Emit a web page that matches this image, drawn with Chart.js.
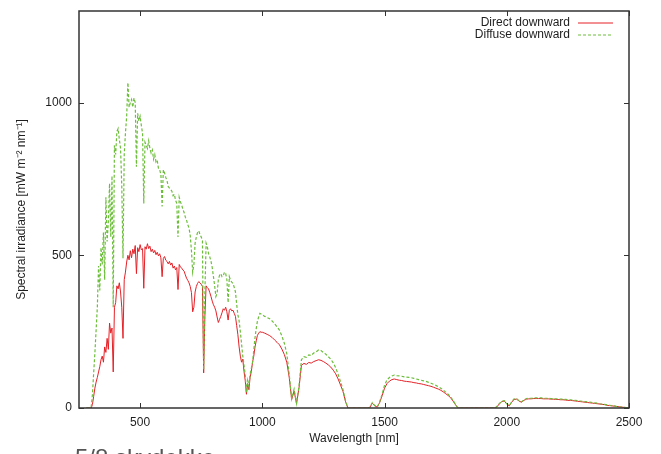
<!DOCTYPE html>
<html>
<head>
<meta charset="utf-8">
<script src="https://cdn.jsdelivr.net/npm/chart.js@4.4.1/dist/chart.umd.min.js"></script>
<style>
  html, body { margin: 0; padding: 0; background: #fff; overflow: hidden; }
  #wrap { position: relative; width: 661px; height: 454px; overflow: hidden; }
  #caption {
    position: absolute; left: 75px; top: 446px;
    font-family: "Liberation Sans", Arial, sans-serif; font-size: 24px; line-height: 24px;
    color: #555; white-space: nowrap;
  }
</style>
</head>
<body>
<div id="wrap">
  <canvas id="spectrum" width="661" height="454"></canvas>
  <div id="caption">5/8 skydekke</div>
</div>
<script>
// Wavelength grid (nm)
const wavelengths = [
  280, 285, 290, 295, 300, 305, 310, 315, 320, 325,
  330, 335, 340, 345, 350, 355, 360, 365, 370, 375,
  380, 385, 390, 395, 400, 405, 410, 415, 420, 425,
  430, 435, 440, 445, 450, 455, 460, 465, 470, 475,
  480, 485, 490, 495, 500, 505, 510, 515, 520, 525,
  530, 535, 540, 545, 550, 555, 560, 565, 570, 575,
  580, 585, 590, 595, 600, 605, 610, 615, 620, 625,
  630, 635, 640, 645, 650, 655, 660, 665, 670, 675,
  680, 685, 690, 695, 700, 705, 710, 715, 720, 725,
  730, 735, 740, 745, 750, 755, 760, 765, 770, 775,
  780, 785, 790, 795, 800, 805, 810, 815, 820, 825,
  830, 835, 840, 845, 850, 855, 860, 865, 870, 875,
  880, 885, 890, 895, 900, 905, 910, 915, 920, 925,
  930, 935, 940, 945, 950, 955, 960, 965, 970, 975,
  980, 985, 990, 995, 1000,
  1010, 1020, 1030, 1040, 1050, 1060, 1070, 1080, 1090, 1100,
  1110, 1120, 1130, 1140, 1150, 1160, 1170, 1180, 1190, 1200,
  1210, 1220, 1230, 1240, 1250, 1260, 1270, 1280, 1290, 1300,
  1310, 1320, 1330, 1340, 1350, 1360, 1370, 1380, 1390, 1400,
  1410, 1420, 1430, 1440, 1450, 1460, 1470, 1480, 1490, 1500,
  1510, 1520, 1530, 1540, 1550, 1560, 1570, 1580, 1590, 1600,
  1610, 1620, 1630, 1640, 1650, 1660, 1670, 1680, 1690, 1700,
  1710, 1720, 1730, 1740, 1750, 1760, 1770, 1780, 1790, 1800,
  1810, 1820, 1830, 1840, 1850, 1860, 1870, 1880, 1890, 1900,
  1910, 1920, 1930, 1940, 1950, 1960, 1970, 1980, 1990, 2000,
  2010, 2020, 2030, 2040, 2050, 2060, 2070, 2080, 2090, 2100,
  2110, 2120, 2130, 2140, 2150, 2160, 2170, 2180, 2190, 2200,
  2210, 2220, 2230, 2240, 2250, 2260, 2270, 2280, 2290, 2300,
  2310, 2320, 2330, 2340, 2350, 2360, 2370, 2380, 2390, 2400,
  2410, 2420, 2430, 2440, 2450, 2460, 2470, 2480, 2490, 2500
];

// Direct downward spectral irradiance (mW m-2 nm-1)
const directDownward = [
  0, 0, 0, 0, 0, 12, 38, 65, 85, 100,
  118, 135, 158, 170, 150, 200, 182, 228, 192, 278,
  245, 262, 118, 330, 345, 400, 390, 410, 380, 330,
  228, 420, 445, 478, 500, 485, 515, 492, 520, 505,
  532, 440, 525, 512, 535, 518, 522, 392, 528, 520,
  538, 522, 530, 512, 520, 508, 516, 502, 510, 498,
  505, 492, 430, 490, 496, 484, 480, 472, 480, 468,
  475, 458, 465, 452, 460, 388, 470, 462, 458, 452,
  448, 436, 425, 418, 410, 398, 378, 315, 330, 380,
  398, 408, 414, 410, 405, 398, 115, 300, 400, 394,
  390, 378, 365, 350, 338, 330, 318, 298, 280, 290,
  300, 312, 325, 320, 330, 315, 288, 320, 325, 318,
  320, 310, 300, 270, 240, 200, 170, 150, 160, 120,
  90, 45, 80, 60, 100, 120, 150, 170, 200, 220,
  238, 245, 250, 248, 248,
  245, 241, 237, 231, 223, 215, 207, 193, 175, 150,
  100, 28, 56, 14, 66, 140, 146, 143, 149, 147,
  152, 155, 158, 156, 152, 147, 141, 134, 124, 112,
  95, 75, 54, 22, 0, 0, 0, 0, 0, 0,
  0, 0, 0, 2, 16, 7, 3, 18, 40, 65,
  80, 88, 93, 95, 93, 91, 90, 88, 87, 86,
  85, 83, 82, 80, 79, 77, 75, 73, 71, 68,
  65, 62, 58, 53, 47, 41, 34, 23, 11, 0,
  0, 0, 0, 0, 0, 0, 0, 0, 0, 0,
  0, 0, 0, 0, 0, 4, 14, 21, 23, 13,
  7, 19, 28, 29, 23, 19, 25, 29, 30, 30,
  31, 31, 31, 31, 30, 30, 30, 29, 29, 28,
  28, 27, 27, 26, 25, 25, 24, 23, 22, 21,
  20, 19, 18, 17, 16, 15, 14, 13, 12, 11,
  9, 8, 7, 6, 5, 4, 3, 2, 1, 0
];

// Diffuse downward spectral irradiance (mW m-2 nm-1)
const diffuseDownward = [
  0, 0, 0, 0, 4, 45, 115, 180, 255, 330,
  465, 385, 525, 470, 575, 420, 690, 545, 610, 735,
  560, 760, 330, 860, 830, 905, 915, 880, 850, 725,
  490, 830, 900, 955, 1065, 985, 1000, 1010, 985, 1015,
  1000, 790, 965, 940, 955, 925, 900, 670, 870, 860,
  850, 875, 850, 835, 845, 815, 830, 805, 810, 785,
  780, 765, 660, 780, 770, 755, 745, 725, 720, 715,
  710, 695, 700, 680, 670, 560, 690, 675, 665, 650,
  640, 625, 615, 600, 590, 565, 515, 445, 470, 540,
  560, 575, 580, 568, 560, 548, 125, 380, 540, 528,
  505, 495, 480, 460, 430, 400, 365, 375, 420, 435,
  440, 430, 432, 445, 440, 420, 345, 430, 418, 412,
  408, 395, 380, 340, 305, 285, 250, 210, 170, 140,
  110, 50, 90, 70, 110, 130, 150, 190, 230, 260,
  285, 298, 310, 308, 305,
  300, 296, 292, 285, 276, 266, 255, 236, 212, 178,
  110, 30, 62, 15, 72, 158, 168, 166, 174, 172,
  180, 184, 190, 188, 182, 176, 168, 160, 148, 132,
  110, 86, 60, 25, 0, 0, 0, 0, 0, 0,
  0, 0, 0, 2, 18, 8, 3, 20, 45, 75,
  92, 100, 105, 108, 106, 105, 104, 102, 101, 100,
  99, 97, 95, 93, 91, 89, 87, 84, 81, 78,
  74, 70, 65, 59, 52, 45, 37, 25, 12, 0,
  0, 0, 0, 0, 0, 0, 0, 0, 0, 0,
  0, 0, 0, 0, 0, 5, 15, 22, 24, 14,
  8, 20, 30, 31, 24, 20, 26, 31, 32, 32,
  33, 33, 33, 33, 32, 32, 32, 31, 31, 30,
  30, 29, 29, 28, 27, 27, 26, 25, 24, 23,
  22, 21, 20, 19, 18, 17, 16, 14, 13, 12,
  10, 9, 8, 7, 5, 4, 3, 2, 1, 0
];

const xTicks = [500, 1000, 1500, 2000, 2500];
const yTicks = [0, 500, 1000];

const FONT = "'Liberation Sans', Arial, sans-serif";
const TEXT = "#1e1e1e";

// gnuplot-style frame with inward ticks on all four sides
const framePlugin = {
    id: "frame",
    afterDatasetsDraw(chart) {
        const { ctx, chartArea: a, scales: { x, y } } = chart;
        const len = 5;
        ctx.save();
        ctx.strokeStyle = "#333";
        ctx.lineWidth = 1;
        ctx.beginPath();
        xTicks.forEach(v => {
            const px = Math.round(x.getPixelForValue(v)) + 0.5;
            ctx.moveTo(px, a.bottom); ctx.lineTo(px, a.bottom - len);
            ctx.moveTo(px, a.top); ctx.lineTo(px, a.top + len);
        });
        yTicks.forEach(v => {
            const py = Math.round(y.getPixelForValue(v)) + 0.5;
            ctx.moveTo(a.left, py); ctx.lineTo(a.left + len, py);
            ctx.moveTo(a.right, py); ctx.lineTo(a.right - len, py);
        });
        ctx.stroke();
        ctx.lineWidth = 1.5;
        ctx.strokeRect(a.left, a.top, a.right - a.left, a.bottom - a.top);
        ctx.restore();
    }
};

// Legend in the top-right corner: label text, then a line sample
const keyPlugin = {
    id: "key",
    afterDraw(chart) {
        const { ctx, chartArea: a } = chart;
        ctx.save();
        ctx.font = "12px " + FONT;
        ctx.textAlign = "right";
        ctx.textBaseline = "middle";
        chart.data.datasets.forEach((ds, i) => {
            const yy = a.top + 12 + i * 12;
            ctx.fillStyle = TEXT;
            ctx.fillText(ds.label, a.right - 59, yy);
            ctx.strokeStyle = ds.borderColor;
            ctx.lineWidth = 1;
            ctx.setLineDash(ds.borderDash || []);
            ctx.beginPath();
            ctx.moveTo(a.right - 51, yy);
            ctx.lineTo(a.right - 16, yy);
            ctx.stroke();
        });
        ctx.restore();
    }
};

const canvas = document.getElementById("spectrum");

new Chart(canvas.getContext("2d"), {
    type: "line",
    data: {
        datasets: [
            {
                label: "Direct downward",
                data: wavelengths.map((w, i) => ({ x: w, y: directDownward[i] })),
                borderColor: "rgb(228, 32, 38)",
                borderWidth: 1,
                pointRadius: 0,
                tension: 0,
                order: 2
            },
            {
                label: "Diffuse downward",
                data: wavelengths.map((w, i) => ({ x: w, y: diffuseDownward[i] })),
                borderColor: "rgb(108, 190, 58)",
                borderWidth: 1.2,
                borderDash: [3, 2],
                pointRadius: 0,
                tension: 0,
                order: 1
            }
        ]
    },
    options: {
        responsive: false,
        animation: false,
        devicePixelRatio: 1,
        layout: { padding: { top: 11, right: 32, left: 0, bottom: 0 } },
        plugins: {
            legend: { display: false },
            tooltip: { enabled: false }
        },
        scales: {
            x: {
                type: "linear",
                min: 250,
                max: 2500,
                afterBuildTicks: s => { s.ticks = xTicks.map(v => ({ value: v })); },
                afterFit: s => { s.height = 46; s.paddingLeft = 0; s.paddingRight = 0; },
                grid: { display: false, drawTicks: false },
                border: { display: false },
                ticks: {
                    padding: 7,
                    color: TEXT,
                    font: { family: FONT, size: 12 },
                    maxRotation: 0,
                    autoSkip: false,
                    callback: v => String(v)
                },
                title: {
                    display: true,
                    text: "Wavelength [nm]",
                    color: TEXT,
                    font: { family: FONT, size: 12 },
                    padding: { top: 0, bottom: 8 }
                }
            },
            y: {
                type: "linear",
                min: 0,
                max: 1300,
                afterBuildTicks: s => { s.ticks = yTicks.map(v => ({ value: v })); },
                afterFit: s => { s.width = 79; s.paddingTop = 0; s.paddingBottom = 0; },
                grid: { display: false, drawTicks: false },
                border: { display: false },
                ticks: {
                    padding: 7,
                    color: TEXT,
                    font: { family: FONT, size: 12 },
                    autoSkip: false,
                    callback: v => String(v)
                },
                title: {
                    display: true,
                    text: "Spectral irradiance [mW m⁻² nm⁻¹]",
                    color: TEXT,
                    font: { family: FONT, size: 12 },
                    padding: { top: 14, bottom: 0 }
                }
            }
        }
    },
    plugins: [framePlugin, keyPlugin]
});
</script>
</body>
</html>
